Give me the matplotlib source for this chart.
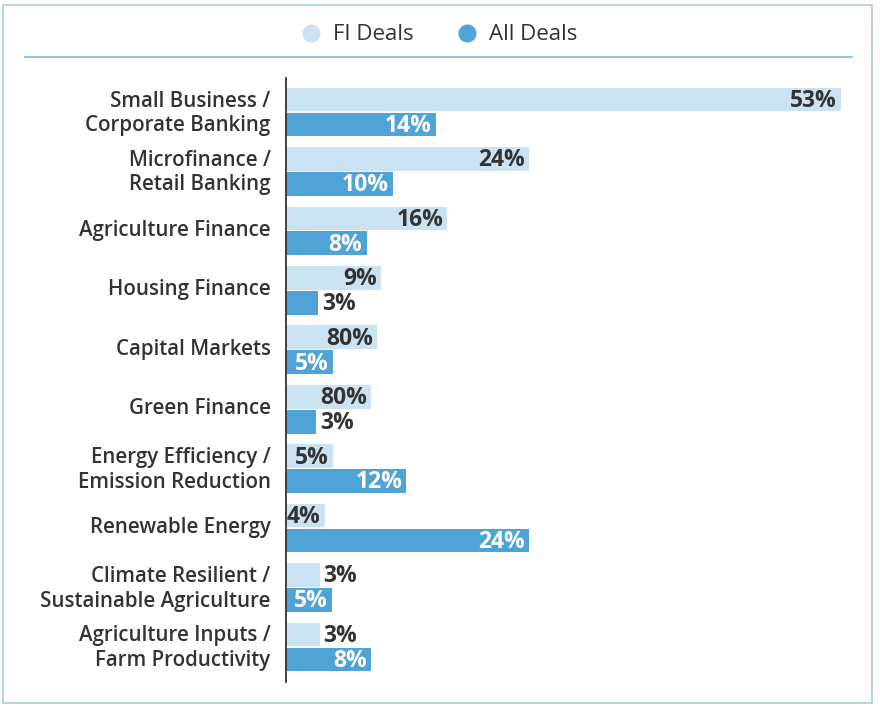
import matplotlib
matplotlib.use("Agg")
import matplotlib.pyplot as plt
from matplotlib.lines import Line2D
from matplotlib.patches import Rectangle

plt.rcParams['font.family'] = ['Open Sans', 'DejaVu Sans']

# data
categories = [
    "Small Business /\nCorporate Banking",
    "Microfinance /\nRetail Banking",
    "Agriculture Finance",
    "Housing Finance",
    "Capital Markets",
    "Green Finance",
    "Energy Efficiency /\nEmission Reduction",
    "Renewable Energy",
    "Climate Resilient /\nSustainable Agriculture",
    "Agriculture Inputs /\nFarm Productivity",
]
fi_values = [53, 23.2, 15.4, 9.1, 8.7, 8.1, 4.5, 3.7, 3.2, 3.2]
fi_labels = ["53%", "24%", "16%", "9%", "80%", "80%", "5%", "4%", "3%", "3%"]
all_values = [14.3, 10.2, 7.7, 3.1, 4.5, 2.9, 11.5, 23.2, 4.4, 8.1]
all_labels = ["14%", "10%", "8%", "3%", "5%", "3%", "12%", "24%", "5%", "8%"]

FI_COLOR = "#cbe2f2"
ALL_COLOR = "#4fa3d6"
TEXT_COLOR = "#333333"
W, H = 880, 708

fig = plt.figure(figsize=(W / 100, H / 100), dpi=100)

# outer frame
fig.patches.append(Rectangle((3 / W, 5 / H), 869 / W, 698 / H, transform=fig.transFigure,
                             fill=False, edgecolor="#a9cbe3", linewidth=1.2))
# separator under legend
fig.add_artist(Line2D([25 / W, 852 / W], [1 - 57 / H, 1 - 57 / H], transform=fig.transFigure,
                      color="#7fb8dc", linewidth=1.2))

ax = fig.add_axes([286 / W, 1 - 682 / H, (852 - 286) / W, (682 - 78) / H])

n = len(categories)
ys = list(range(n))
bh = 0.40
ax.barh([y - 0.21 for y in ys], fi_values, height=bh, color=FI_COLOR)
ax.barh([y + 0.21 for y in ys], all_values, height=bh, color=ALL_COLOR)

ax.set_xlim(0, 54.06)
ax.set_ylim(9.59, -0.572)
ax.set_yticks([y - 0.05 for y in ys])
ax.set_yticklabels(categories, fontsize=14.8, fontweight="semibold", color=TEXT_COLOR,
                   linespacing=1.22)
ax.tick_params(axis="y", length=0, pad=11)
ax.set_xticks([])
for side in ["top", "right", "bottom"]:
    ax.spines[side].set_visible(False)
ax.spines["left"].set_color(TEXT_COLOR)
ax.spines["left"].set_linewidth(1.3)

def put_label(v, y, text, inside_color):
    if v >= 3.5:
        ax.annotate(text, (v, y), xytext=(-3, -1), textcoords="offset points",
                    ha="right", va="center", fontsize=16.5, fontweight="bold",
                    color=inside_color)
    else:
        ax.annotate(text, (v, y), xytext=(3, -1), textcoords="offset points",
                    ha="left", va="center", fontsize=16.5, fontweight="bold",
                    color=TEXT_COLOR)

for y, v, t in zip(ys, fi_values, fi_labels):
    put_label(v, y - 0.21, t, TEXT_COLOR)
for y, v, t in zip(ys, all_values, all_labels):
    put_label(v, y + 0.21, t, "white")

handles = [
    Line2D([], [], marker="o", linestyle="none", markersize=12, color=FI_COLOR, label="FI Deals"),
    Line2D([], [], marker="o", linestyle="none", markersize=12, color=ALL_COLOR, label="All Deals"),
]
fig.legend(handles=handles, loc="center", bbox_to_anchor=(0.5, 1 - 35 / H), ncol=2,
           frameon=False, fontsize=16, handlelength=0.8, handletextpad=0.6,
           columnspacing=2.0, labelcolor=TEXT_COLOR)

fig.savefig("out.png", dpi=100)
